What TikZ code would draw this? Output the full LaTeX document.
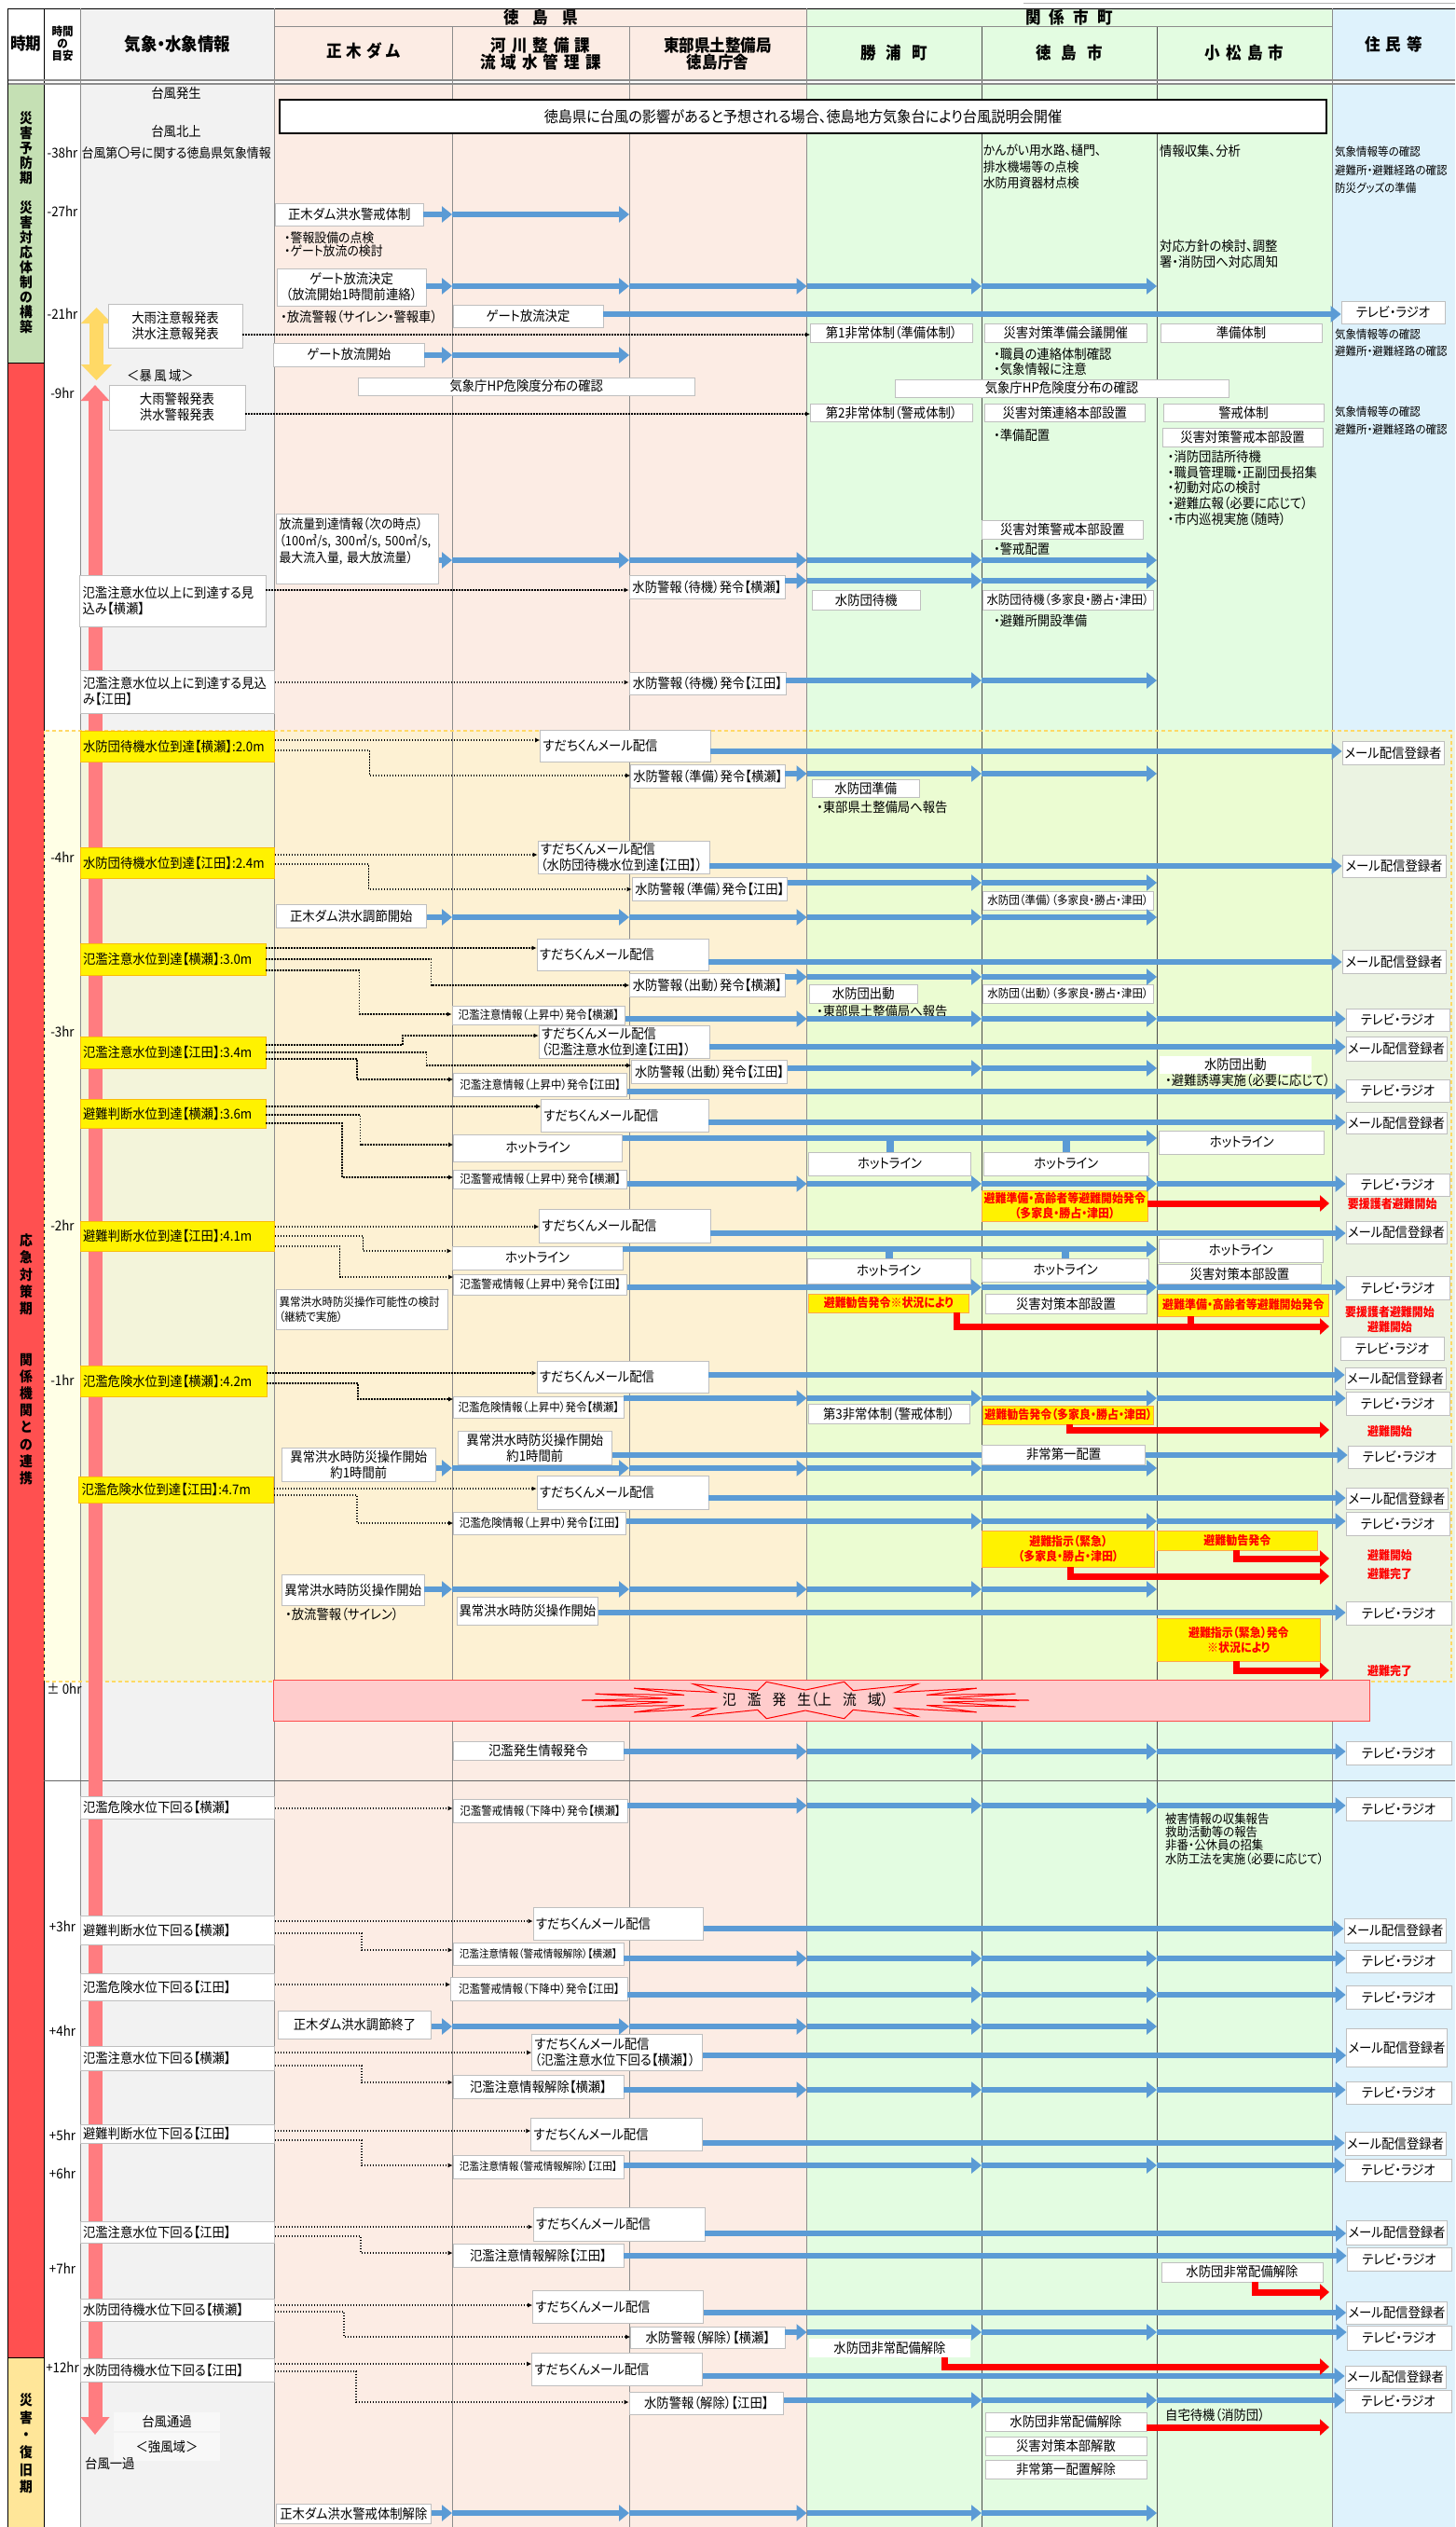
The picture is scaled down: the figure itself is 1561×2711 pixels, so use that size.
\documentclass[tikz,border=0pt]{standalone}
\usepackage{fontspec}
\setmainfont[FakeStretch=0.92,RawFeature=+palt]{Noto Sans CJK JP}
\usetikzlibrary{arrows.meta}

\definecolor{flowblue}{HTML}{5B9BD5}
\definecolor{wgray}{HTML}{F2F2F2}
\definecolor{pref}{HTML}{FCECE4}
\definecolor{muni}{HTML}{E3FCE1}
\definecolor{resi}{HTML}{DEF2FC}
\definecolor{ztime}{HTML}{FFFFE6}
\definecolor{zwgray}{HTML}{F3F4DA}
\definecolor{zpref}{HTML}{FDF1D3}
\definecolor{zmuni}{HTML}{EBFCD2}
\definecolor{zresi}{HTML}{EBF3E2}
\definecolor{pgreen}{HTML}{C5E0B4}
\definecolor{pred}{HTML}{FF5050}
\definecolor{pyel}{HTML}{FFE699}
\definecolor{pinkarr}{HTML}{FF7C80}
\definecolor{yelarr}{HTML}{FFD966}
\definecolor{floodpink}{HTML}{FFCCCC}

\newcommand\fN{\fontsize{14.5}{17}\selectfont}
\newcommand\fS{\fontsize{12.5}{15}\selectfont}
\newcommand\fT{\fontsize{11.5}{14}\selectfont}
\newcommand\fR{\bfseries\fontsize{13}{16}\selectfont}
\newcommand\fH{\bfseries\fontsize{18}{17}\selectfont}
\newcommand\gp{\hspace{6pt}}

% box from corner (x1,y1) to corner (x2,y2)
\newcommand\bx[7][]{%
  \pgfmathsetmacro\bw{#5-#3}\pgfmathsetmacro\bh{#6-#4}\pgfmathsetmacro\btw{#5-#3-6}%
  \node[box,minimum width=\bw pt,minimum height=\bh pt,#1] (#2) at ({(#3+#5)/2},{(#4+#6)/2}) {#7};}
% blue flow, one head at every column border
\newcommand\flow[3]{%
  \foreach \nx [remember=\nx as \px (initially #1.east)] in {#3}
    {\draw[flow] (\px |- 0,#2) -- (\nx |- 0,#2);}}

\tikzset{
  box/.style={draw=black!25, fill=white, line width=0.8pt, inner sep=2pt, font=\fN, align=center},
  lft/.style={align=left, text width=\btw pt},
  ybox/.style={box, fill=yellow, draw=yellow!50!orange, lft},
  rbox/.style={box, fill=yellow, draw=orange!70, text=red, font=\fR},
  nbox/.style={box, draw=none},
  txt/.style={inner sep=0pt, anchor=west, align=left, font=\fN},
  flow/.style={draw=flowblue, line width=6pt, -{Triangle[length=11pt,width=17pt]}},
  rarr/.style={draw=red, line width=7pt, line join=miter, shorten >=3pt, -{Triangle[length=10pt,width=17pt]}},
  rtab/.style={draw=red, line width=7pt},
  tab/.style={draw=flowblue, line width=8pt},
  dots/.style={line width=1.5pt, dash pattern=on 1.5pt off 1.5pt, -{Latex[length=5pt,width=5pt]}},
  colline/.style={draw=black!45, line width=0.8pt},
}

\begin{document}
\begin{tikzpicture}[x=1pt,y=-1pt]
\useasboundingbox (0,0) rectangle (1561,2711);
\clip (0,0) rectangle (1561,2711);
\fill[white] (0,0) rectangle (1561,2711);

% column borders
\coordinate (cD) at (485,0);
\coordinate (cR) at (675,0);
\coordinate (cE) at (865.5,0);
\coordinate (cK) at (1053,0);
\coordinate (cT) at (1241,0);
\coordinate (cM) at (1429,0);

% backgrounds
\fill[wgray] (86.5,9.3) rectangle (294.5,86);
\fill[pref] (294.5,9.3) rectangle (865.5,86);
\fill[muni] (865.5,9.3) rectangle (1429,86);
\fill[resi] (1429,9.3) rectangle (1561,86);
\fill[pgreen] (8.5,90) rectangle (47,389);
\fill[pred] (8.5,389) rectangle (47,2529);
\fill[pyel] (8.5,2529) rectangle (47,2711);
\fill[wgray] (86.5,90) rectangle (294.5,2711);
\fill[pref] (294.5,90) rectangle (865.5,2711);
\fill[muni] (865.5,90) rectangle (1429,2711);
\fill[resi] (1429,90) rectangle (1561,2711);
\fill[ztime] (47,784) rectangle (86.5,1804);
\fill[zwgray] (86.5,784) rectangle (294.5,1804);
\fill[zpref] (294.5,784) rectangle (865.5,1804);
\fill[zmuni] (865.5,784) rectangle (1429,1804);
\fill[zresi] (1429,784) rectangle (1561,1804);

% grid lines
\draw[black!30] (1098,3) -- (1561,3);
\draw[line width=1pt] (8.5,9.3) -- (1561,9.3);
\draw[line width=0.8pt] (8.5,9.3) -- (8.5,2711);
\draw[line width=0.8pt] (47,9.3) -- (47,2711);
\draw[colline] (86.5,9.3) -- (86.5,2711);
\draw[colline] (294.5,9.3) -- (294.5,2711);
\draw[colline] (485,28.7) -- (485,2711);
\draw[colline] (675,28.7) -- (675,2711);
\draw[colline] (865.5,9.3) -- (865.5,2711);
\draw[colline,black!70] (1053,28.7) -- (1053,2711);
\draw[colline,black!70] (1241,28.7) -- (1241,2711);
\draw[colline] (1429,9.3) -- (1429,2711);
\draw[colline] (294.5,28.7) -- (1429,28.7);
\draw[black!45,line width=1.2pt] (8.5,86) -- (1561,86);
\draw[black!45,line width=1.2pt] (8.5,90) -- (1561,90);
\draw[line width=0.8pt] (8.5,389) -- (47,389);
\draw[line width=0.8pt] (8.5,2529) -- (47,2529);
\draw[black!60,line width=1pt] (47,1910) -- (1561,1910);
\draw[yelarr,line width=1.2pt,dash pattern=on 4pt off 3pt] (47.5,784) rectangle (1557,1804);

% header
\node[font=\fH] (h1) at (28,47) {時期};
\node[font=\bfseries\fontsize{12.5}{13}\selectfont,align=center] (h2) at (67,47) {時間\\の\\目安};
\node[font=\bfseries\fontsize{19}{20}\selectfont] (h3) at (190.5,47) {気象・水象情報};
\node[font=\fH] (h4) at (580,19) {徳\hspace{15pt}島\hspace{15pt}県};
\node[font=\fH] (h5) at (390,55) {正\hspace{5pt}木\hspace{5pt}ダ\hspace{5pt}ム};
\node[font=\fH,align=center] (h6) at (580,57.5) {河\gp 川\gp 整\gp 備\gp 課\\流\gp 域\gp 水\gp 管\gp 理\gp 課};
\node[font=\fH,align=center] (h7) at (770,58) {東部県土整備局\\徳島庁舎};
\node[font=\fH] (h8) at (1147,19) {関\hspace{9pt}係\hspace{9pt}市\hspace{9pt}町};
\node[font=\fH] (h9) at (959,57) {勝\hspace{11pt}浦\hspace{11pt}町};
\node[font=\fH] (h10) at (1147,57) {徳\hspace{11pt}島\hspace{11pt}市};
\node[font=\fH] (h11) at (1335,57) {小\gp 松\gp 島\gp 市};
\node[font=\fH] (h12) at (1495,48) {住\gp 民\gp 等};

% periods
\node[font=\bfseries\fontsize{15}{16}\selectfont,align=center] (p1) at (28,238.5) {災\\害\\予\\防\\期\\\mbox{}\\災\\害\\対\\応\\体\\制\\の\\構\\築};
\node[font=\bfseries\fontsize{15}{18.2}\selectfont,align=center] (p2) at (28,1458.5) {応\\急\\対\\策\\期\\\mbox{}\\\mbox{}\\関\\係\\機\\関\\と\\の\\連\\携};
\node[font=\bfseries\fontsize{15}{18.6}\selectfont,align=center] (p3) at (28,2621.5) {災\\害\\・\\復\\旧\\期};

% time marks
\node[font=\fN] (tl1) at (67,164) {-38hr};
\node[font=\fN] (tl2) at (67,227) {-27hr};
\node[font=\fN] (tl3) at (67,337) {-21hr};
\node[font=\fN] (tl4) at (67,422) {-9hr};
\node[font=\fN] (tl5) at (67,920) {-4hr};
\node[font=\fN] (tl6) at (67,1107) {-3hr};
\node[font=\fN] (tl7) at (67,1315) {-2hr};
\node[font=\fN] (tl8) at (67,1481) {-1hr};
\node[font=\fN] (tl9) at (69,1812) {± 0hr};
\node[font=\fN] (tl10) at (67,2067) {+3hr};
\node[font=\fN] (tl11) at (67,2179) {+4hr};
\node[font=\fN] (tl12) at (67,2291) {+5hr};
\node[font=\fN] (tl13) at (67,2332) {+6hr};
\node[font=\fN] (tl14) at (67,2434) {+7hr};
\node[font=\fN] (tl15) at (67,2540) {+12hr};

% typhoon arrows
\draw[pinkarr,line width=15pt,{Triangle[length=17pt,width=30pt]}-{Triangle[length=19pt,width=30pt]}] (102,413) -- (102,2612);
\draw[yelarr,line width=15pt,{Triangle[length=17pt,width=32pt]}-{Triangle[length=17pt,width=32pt]}] (103.5,330) -- (103.5,408);

% weather and water
\node[txt,anchor=center] (w1) at (189,100) {台風発生};
\node[txt,anchor=center] (w2) at (189,141) {台風北上};
\node[txt,font=\fontsize{14}{17}\selectfont] (w3) at (87.5,164) {台風第〇号に関する徳島県気象情報};
\node[txt,anchor=center] (w4) at (172,403) {＜暴\,風\,域＞};
\bx{wa1}{116}{326}{260}{373}{大雨注意報発表\\洪水注意報発表}
\bx{wa2}{117}{413}{263}{461}{大雨警報発表\\洪水警報発表}
\bx[lft]{wl1}{85.6}{617}{285}{672}{氾濫注意水位以上に到達する見\\込み【横瀬】}
\bx[lft]{wl2}{86}{719}{294.5}{765}{氾濫注意水位以上に到達する見込\\み【江田】}
\bx[ybox]{y1}{86}{784}{294.5}{817}{水防団待機水位到達【横瀬】:2.0m}
\bx[ybox]{y2}{86}{909}{294.5}{942}{水防団待機水位到達【江田】:2.4m}
\bx[ybox]{y3}{86}{1012}{285}{1046}{氾濫注意水位到達【横瀬】:3.0m}
\bx[ybox]{y4}{86}{1112}{285}{1146}{氾濫注意水位到達【江田】:3.4m}
\bx[ybox]{y5}{86}{1179}{285}{1210}{避難判断水位到達【横瀬】:3.6m}
\bx[ybox]{y6}{86}{1310}{294.5}{1342}{避難判断水位到達【江田】:4.1m}
\bx[ybox]{y7}{86}{1465}{286}{1498}{氾濫危険水位到達【横瀬】:4.2m}
\bx[ybox]{y8}{84.6}{1584}{293.5}{1612}{氾濫危険水位到達【江田】:4.7m}
\bx[lft]{d1}{86}{1927}{294.5}{1951}{氾濫危険水位下回る【横瀬】}
\bx[lft]{d2}{86}{2055}{294.5}{2086}{避難判断水位下回る【横瀬】}
\bx[lft]{d3}{86}{2117}{294.5}{2146}{氾濫危険水位下回る【江田】}
\bx[lft]{d4}{86}{2195}{294.5}{2221}{氾濫注意水位下回る【横瀬】}
\bx[lft]{d5}{86}{2279}{294.5}{2299}{避難判断水位下回る【江田】}
\bx[lft]{d6}{86}{2383}{294.5}{2406}{氾濫注意水位下回る【江田】}
\bx[lft]{d7}{86}{2466}{294.5}{2490}{水防団待機水位下回る【横瀬】}
\bx[lft]{d8}{86}{2530}{294.5}{2555}{水防団待機水位下回る【江田】}
\bx[nbox,fill=white!50!wgray]{wp1}{122}{2588}{236}{2608}{台風通過}
\bx[nbox,fill=white!50!wgray]{wp2}{122}{2610}{236}{2640}{＜強風域＞}
\node[txt] (w5) at (91,2643) {台風一過};

% briefing
\bx[draw=black,line width=1.3pt,font=\fontsize{16.5}{18}\selectfont]{info}{300}{107}{1423}{143}{徳島県に台風の影響があると予想される場合、徳島地方気象台により台風説明会開催}
\bx{hp1}{384.5}{405}{745}{424}{気象庁HP危険度分布の確認}
\bx{hp2}{960}{407}{1318}{426}{気象庁HP危険度分布の確認}

% dam
\bx{m1}{295.5}{218}{454}{242}{正木ダム洪水警戒体制}
\node[txt,font=\fontsize{14}{14.5}\selectfont] (m1t) at (305,262) {・警報設備の点検\\・ゲート放流の検討};
\bx{m2}{297}{288}{457}{328}{ゲート放流決定\\（放流開始1時間前連絡）}
\node[txt] (m2t) at (301,340) {・放流警報（サイレン・警報車）};
\bx{m3}{293.5}{368}{455}{393}{ゲート放流開始}
\bx[lft,font=\fontsize{14}{18}\selectfont]{m4}{296.5}{551}{470.6}{626}{放流量到達情報（次の時点）\\（100㎥/s, 300㎥/s, 500㎥/s,\\最大流入量, 最大放流量）\\\mbox{}}
\bx{m5}{296}{970}{457.7}{995}{正木ダム洪水調節開始}
\bx[lft,font=\fontsize{12.5}{16}\selectfont]{m6}{296.5}{1383}{480}{1426}{異常洪水時防災操作可能性の検討\\（継続で実施）}
\bx{m7}{302}{1553}{467.7}{1589}{異常洪水時防災操作開始\\約1時間前}
\bx{m8}{302.5}{1689}{455}{1722}{異常洪水時防災操作開始}
\node[txt] (m8t) at (306,1732) {・放流警報（サイレン）};
\bx{m9}{298.5}{2157}{462.7}{2187}{正木ダム洪水調節終了}
\bx{m10}{296}{2686}{462.7}{2707}{正木ダム洪水警戒体制解除}

% river
\bx{r1}{486}{327}{647}{351}{ゲート放流決定}
\bx[font=\fS]{r2}{485}{1079}{670.6}{1099}{氾濫注意情報（上昇中）発令【横瀬】}
\bx[font=\fS]{r3}{486.6}{1151}{672.6}{1176}{氾濫注意情報（上昇中）発令【江田】}
\bx{r4}{486.6}{1217}{667.7}{1246}{ホットライン}
\bx[font=\fS]{r5}{486.6}{1255}{672.6}{1275}{氾濫警戒情報（上昇中）発令【横瀬】}
\bx{r6}{485}{1337}{668}{1362}{ホットライン}
\bx[font=\fS]{r7}{486.6}{1367}{672.6}{1389}{氾濫警戒情報（上昇中）発令【江田】}
\bx[font=\fS]{r8}{486.6}{1498}{669}{1521}{氾濫危険情報（上昇中）発令【横瀬】}
\bx{r9}{491}{1535}{656.7}{1571}{異常洪水時防災操作開始\\約1時間前}
\bx[font=\fS]{r10}{486.6}{1622}{671.6}{1646}{氾濫危険情報（上昇中）発令【江田】}
\bx{r11}{490}{1713}{641.8}{1743}{異常洪水時防災操作開始}
\bx{r12}{486}{1868}{669}{1888}{氾濫発生情報発令}
\bx[font=\fS]{r13}{486}{1930}{673}{1955}{氾濫警戒情報（下降中）発令【横瀬】}
\bx[font=\fT]{r14}{486}{2084}{669}{2108}{氾濫注意情報（警戒情報解除）【横瀬】}
\bx[font=\fS]{r15}{483.6}{2121}{673}{2146}{氾濫警戒情報（下降中）発令【江田】}
\bx{r16}{486}{2226}{669}{2251}{氾濫注意情報解除【横瀬】}
\bx[font=\fT]{r17}{486}{2312}{669}{2337}{氾濫注意情報（警戒情報解除）【江田】}
\bx{r18}{486}{2407}{669}{2432}{氾濫注意情報解除【江田】}

% mail service
\bx[lft]{s1}{579.6}{783}{762}{817}{すだちくんメール配信}
\bx[lft]{s2}{577}{902}{761}{937}{すだちくんメール配信\\（水防団待機水位到達【江田】）}
\bx[lft]{s3}{576}{1007}{760}{1041}{すだちくんメール配信}
\bx[lft]{s4}{578}{1100}{761}{1135}{すだちくんメール配信\\（氾濫注意水位到達【江田】）}
\bx[lft]{s5}{580.6}{1179}{760}{1214}{すだちくんメール配信}
\bx[lft]{s6}{578.6}{1297}{762}{1333}{すだちくんメール配信}
\bx[lft]{s7}{576}{1460}{760}{1494}{すだちくんメール配信}
\bx[lft]{s8}{576}{1583}{760}{1619}{すだちくんメール配信}
\bx[lft]{s9}{572}{2046}{754.7}{2081}{すだちくんメール配信}
\bx[lft]{s10}{570.6}{2182}{753.7}{2221}{すだちくんメール配信\\（氾濫注意水位下回る【横瀬】）}
\bx[lft]{s11}{569.7}{2272}{753.7}{2307}{すだちくんメール配信}
\bx[lft]{s12}{572}{2368}{756}{2404}{すだちくんメール配信}
\bx[lft]{s13}{571.6}{2457}{754.7}{2492}{すだちくんメール配信}
\bx[lft]{s14}{570.6}{2524}{753.7}{2559}{すだちくんメール配信}

% east office
\bx{e1}{675}{617}{842}{642}{水防警報（待機）発令【横瀬】}
\bx{e2}{675}{721}{843}{745}{水防警報（待機）発令【江田】}
\bx{e3}{676.6}{820}{842}{845}{水防警報（準備）発令【横瀬】}
\bx{e4}{678}{941}{844.7}{966}{水防警報（準備）発令【江田】}
\bx{e5}{675.6}{1044}{842}{1069}{水防警報（出動）発令【横瀬】}
\bx{e6}{677.6}{1137}{844.7}{1162}{水防警報（出動）発令【江田】}
\bx{e7}{676.6}{2496}{842}{2519}{水防警報（解除）【横瀬】}
\bx{e8}{675}{2566}{840.7}{2590}{水防警報（解除）【江田】}

% Katsuura
\bx{k1}{869.5}{347}{1043}{367}{第1非常体制（準備体制）}
\bx{k2}{869.5}{433}{1043}{452}{第2非常体制（警戒体制）}
\bx{k3}{871}{633}{987.5}{654}{水防団待機}
\bx{k4}{871}{836}{986.5}{855}{水防団準備}
\node[txt] (k4t) at (876,866) {・東部県土整備局へ報告};
\bx{k5}{868.6}{1056}{984}{1076}{水防団出動}
\node[txt] (k5t) at (876,1085) {・東部県土整備局へ報告};
\bx{hk1}{867.6}{1236}{1041.7}{1261}{ホットライン}
\bx{hk2}{866}{1350}{1041}{1377}{ホットライン}
\bx[rbox]{k6}{867}{1388}{1039.7}{1408}{避難勧告発令※状況により}
\bx{k7}{867}{1506}{1040}{1527}{第3非常体制（警戒体制）}
\bx[nbox]{k8}{868}{2509}{1041}{2529}{水防団非常配備解除}

% Tokushima
\node[txt,font=\fontsize{14}{17.5}\selectfont] (tt1) at (1054.6,179) {かんがい用水路、樋門、\\排水機場等の点検\\水防用資器材点検};
\bx{tk1}{1056.6}{347}{1230}{367}{災害対策準備会議開催}
\node[txt,font=\fontsize{14.5}{16}\selectfont] (tt2) at (1066,388) {・職員の連絡体制確認\\・気象情報に注意};
\bx{tk2}{1056.6}{433}{1228}{452}{災害対策連絡本部設置}
\node[txt] (tt3) at (1066,467) {・準備配置};
\bx{tk3}{1053.6}{558}{1226}{578}{災害対策警戒本部設置}
\node[txt] (tt4) at (1066,589) {・警戒配置};
\bx[font=\fontsize{13.5}{16}\selectfont]{tk4}{1054}{633}{1237}{654}{水防団待機（多家良・勝占・津田）}
\node[txt] (tt5) at (1066,666) {・避難所開設準備};
\bx[font=\fS]{tk5}{1054}{956}{1237}{976}{水防団（準備）（多家良・勝占・津田）}
\bx[font=\fS]{tk6}{1054}{1056}{1237}{1076}{水防団（出動）（多家良・勝占・津田）}
\bx{ht1}{1055}{1236}{1232.7}{1261}{ホットライン}
\bx{ht2}{1053.6}{1350}{1232.7}{1375}{ホットライン}
\bx[rbox]{tk7}{1053.6}{1277}{1231}{1310}{避難準備・高齢者等避難開始発令\\（多家良・勝占・津田）}
\bx{tk8}{1057}{1388}{1230}{1409}{災害対策本部設置}
\bx[rbox]{tk9}{1054.6}{1508}{1237.7}{1528}{避難勧告発令（多家良・勝占・津田）}
\bx{x1}{1053.6}{1550}{1228.7}{1571}{非常第一配置}
\bx[rbox]{tk10}{1053.6}{1642}{1238.7}{1681}{避難指示（緊急）\\（多家良・勝占・津田）}
\bx{tk11}{1057}{2588}{1230}{2608}{水防団非常配備解除}
\node[txt] (tt6) at (1250,2591) {自宅待機（消防団）};
\bx{tk12}{1057}{2614}{1230}{2634}{災害対策本部解散}
\bx{tk13}{1057}{2639}{1230}{2659}{非常第一配置解除}

% Komatsushima
\node[txt] (ct1) at (1244,162) {情報収集、分析};
\node[txt] (ct2) at (1244,272.5) {対応方針の検討、調整\\署・消防団へ対応周知};
\bx{c1}{1245}{347}{1418}{367}{準備体制}
\bx{c2}{1248}{433}{1420}{452}{警戒体制}
\bx{c3}{1247}{459}{1419}{479}{災害対策警戒本部設置}
\node[txt,font=\fontsize{14.5}{16.7}\selectfont] (ct3) at (1252.6,523.5) {・消防団詰所待機\\・職員管理職・正副団長招集\\・初動対応の検討\\・避難広報（必要に応じて）\\・市内巡視実施（随時）};
\bx[nbox]{c4}{1243.7}{1133}{1407}{1152}{水防団出動}
\node[txt] (ct4) at (1250,1159) {・避難誘導実施（必要に応じて）};
\bx{hm1}{1243.7}{1213}{1420.8}{1238}{ホットライン}
\bx{hm2}{1243.7}{1329}{1419}{1354}{ホットライン}
\bx{c5}{1242.7}{1356}{1417}{1377}{災害対策本部設置}
\bx[rbox]{c6}{1242.7}{1388}{1425}{1412}{避難準備・高齢者等避難開始発令}
\bx[rbox]{c7}{1241.7}{1642}{1413}{1663}{避難勧告発令}
\bx[rbox]{c8}{1241.7}{1736}{1416}{1782}{避難指示（緊急）発令\\※状況により}
\node[txt,font=\fontsize{13.5}{14.3}\selectfont] (ct5) at (1250,1972.5) {被害情報の収集報告\\救助活動等の報告\\非番・公休員の招集\\水防工法を実施（必要に応じて）};
\bx{c9}{1246}{2427}{1419}{2448}{水防団非常配備解除}

% residents
\node[txt,font=\fontsize{12.5}{19.5}\selectfont] (rt1) at (1432,182.5) {気象情報等の確認\\避難所・避難経路の確認\\防災グッズの準備};
\node[txt,font=\fontsize{12.5}{18}\selectfont] (rt2) at (1432,368) {気象情報等の確認\\避難所・避難経路の確認};
\node[txt,font=\fontsize{12.5}{19}\selectfont] (rt3) at (1432,451.5) {気象情報等の確認\\避難所・避難経路の確認};
\node[txt,text=red,font=\fR] (rt4) at (1445.7,1292) {要援護者避難開始};
\node[txt,anchor=center,align=center,text=red,font=\fR] (rt5) at (1491,1416) {要援護者避難開始\\避難開始};
\node[txt,anchor=center,text=red,font=\fR] (rt6) at (1491,1536) {避難開始};
\node[txt,anchor=center,align=center,text=red,font=\bfseries\fontsize{13}{20}\selectfont] (rt7) at (1491,1679) {避難開始\\避難完了};
\node[txt,anchor=center,text=red,font=\fR] (rt8) at (1491,1793) {避難完了};
\bx{tv1}{1439}{323}{1550}{347}{テレビ・ラジオ}
\bx{ml1}{1440}{795}{1549}{820}{メール配信登録者}
\bx{ml2}{1440}{917}{1551}{941}{メール配信登録者}
\bx{ml3}{1440}{1019}{1551}{1044}{メール配信登録者}
\bx{tv2}{1444}{1082}{1555}{1106}{テレビ・ラジオ}
\bx{ml4}{1444}{1112}{1552}{1138}{メール配信登録者}
\bx{tv3}{1444}{1158}{1555}{1182}{テレビ・ラジオ}
\bx{ml5}{1444}{1193}{1552}{1216}{メール配信登録者}
\bx{tv4}{1444}{1259}{1555}{1283}{テレビ・ラジオ}
\bx{ml6}{1444}{1310}{1552}{1334}{メール配信登録者}
\bx{tv5}{1444}{1369}{1555}{1394}{テレビ・ラジオ}
\bx{tv6}{1438}{1434}{1549}{1459}{テレビ・ラジオ}
\bx{ml7}{1443}{1467}{1551}{1490}{メール配信登録者}
\bx{tv7}{1444}{1493}{1555}{1518}{テレビ・ラジオ}
\bx{tv8}{1446}{1551}{1557}{1575}{テレビ・ラジオ}
\bx{ml8}{1444}{1596}{1553}{1619}{メール配信登録者}
\bx{tv9}{1444}{1622}{1555}{1647}{テレビ・ラジオ}
\bx{tv10}{1444}{1718}{1557}{1743}{テレビ・ラジオ}
\bx{tv11}{1444}{1868}{1557}{1893}{テレビ・ラジオ}
\bx{tv12}{1444}{1928}{1557}{1953}{テレビ・ラジオ}
\bx{ml9}{1442}{2058}{1551}{2084}{メール配信登録者}
\bx{tv13}{1444}{2092}{1557}{2116}{テレビ・ラジオ}
\bx{tv14}{1444}{2130}{1557}{2155}{テレビ・ラジオ}
\bx{ml10}{1445}{2176}{1552}{2217}{メール配信登録者}
\bx{tv15}{1444}{2233}{1557}{2257}{テレビ・ラジオ}
\bx{ml11}{1443}{2287}{1551}{2312}{メール配信登録者}
\bx{tv16}{1443}{2316}{1557}{2340}{テレビ・ラジオ}
\bx{ml12}{1445}{2382}{1552}{2408}{メール配信登録者}
\bx{tv17}{1445}{2411}{1557}{2436}{テレビ・ラジオ}
\bx{ml13}{1445}{2469}{1552}{2493}{メール配信登録者}
\bx{tv18}{1445}{2495}{1557}{2521}{テレビ・ラジオ}
\bx{ml14}{1443}{2538}{1551}{2562}{メール配信登録者}
\bx{tv19}{1443}{2564}{1557}{2588}{テレビ・ラジオ}

% blue flows
\flow{m1}{230}{cD,cR}
\flow{m2}{307}{cD,cR,cE,cK,cT}
\flow{r1}{337}{tv1.west}
\flow{m3}{381}{cD,cR}
\flow{m4}{601}{cD,cR,cE,cK,cT}
\flow{e1}{623}{cE,cK,cT}
\flow{e2}{730}{cK,cT}
\flow{s1}{806}{ml1.west}
\flow{e3}{830}{cE,cK,cT}
\flow{s2}{929}{ml2.west}
\flow{e4}{947}{cK,cT}
\flow{m5}{984}{cD,cR,cE,cK,cT}
\flow{s3}{1032}{ml3.west}
\flow{e5}{1048}{cE,cK,cT}
\flow{r2}{1093}{cE,cK,cT,tv2.west}
\flow{s4}{1123}{ml4.west}
\flow{e6}{1146}{cK,cT}
\flow{r3}{1171}{tv3.west}
\flow{s5}{1204}{ml5.west}
\flow{r4}{1221}{cT}
\flow{r5}{1270}{cE,cK,cT,tv4.west}
\flow{s6}{1323}{ml6.west}
\flow{r6}{1340}{cT}
\flow{r7}{1381}{cK,cT,tv5.west}
\flow{s7}{1475}{ml7.west}
\flow{r8}{1500}{cE,cK,cT,tv7.west}
\draw[flow,-] (r9.east |- 0,1561) -- (x1.west |- 0,1561);
\flow{x1}{1561}{tv8.west}
\flow{m7}{1575}{cD,cR,cE,cK,cT}
\flow{s8}{1607}{ml8.west}
\flow{r10}{1632}{cK,cT,tv9.west}
\flow{m8}{1705}{cD,cR,cE,cK,cT}
\flow{r11}{1730}{tv10.west}
\flow{r12}{1879}{cE,cK,cT,tv11.west}
\flow{r13}{1937}{cE,cK,cT,tv12.west}
\flow{s9}{2069}{ml9.west}
\flow{r14}{2101}{cE,cK,cT,tv13.west}
\flow{r15}{2140}{cK,cT,tv14.west}
\flow{m9}{2174}{cD,cR,cE,cK,cT}
\flow{s10}{2205}{ml10.west}
\flow{r16}{2242}{cE,cK,cT,tv15.west}
\flow{s11}{2299}{ml11.west}
\flow{r17}{2323}{cK,cT,tv16.west}
\flow{s12}{2396}{ml12.west}
\flow{r18}{2420}{tv17.west}
\flow{s13}{2481}{ml13.west}
\flow{e7}{2502}{cE,cK,cT,tv18.west}
\flow{s14}{2549}{ml14.west}
\flow{e8}{2575}{cK,cT,tv19.west}
\flow{m10}{2696}{cD,cR,cE,cK,cT}

% hotline taps
\draw[tab] (hk1.north) -- (hk1.north |- 0,1221);
\draw[tab] (ht1.north) -- (ht1.north |- 0,1221);
\draw[tab] (hk2.north) -- (hk2.north |- 0,1340);
\draw[tab] (ht2.north) -- (ht2.north |- 0,1340);

% evacuation orders
\draw[rarr] (tk7.east |- 0,1291) -- (cM |- 0,1291);
\draw[rarr] (k6.south -| 1026,0) |- (cM |- 0,1423);
\draw[rtab] (c6.south -| 1277.5,0) -- ++(0,11.5);
\draw[rarr] (tk9.south -| 1147,0) |- (cM |- 0,1534);
\draw[rarr] (tk10.south -| 1148,0) |- (cM |- 0,1691);
\draw[rarr] (c7.south -| 1326,0) |- (cM |- 0,1672);
\draw[rarr] (c8.south -| 1326,0) |- (cM |- 0,1792);
\draw[rarr] (c9.south -| 1346,0) |- (cM |- 0,2459);
\draw[rarr] (k8.south -| 1013.8,0) |- (cM |- 0,2539);
\draw[rarr] (tk11.east |- 0,2604) -- (cM |- 0,2604);

% dotted notices
\draw[dots] (wa1.east |- 0,359) -- (k1.west |- 0,359);
\draw[dots] (wa2.east |- 0,444) -- (k2.west |- 0,444);
\draw[dots] (wl1.east |- 0,633) -- (e1.west |- 0,633);
\draw[dots] (wl2.east |- 0,732) -- (e2.west |- 0,732);
\draw[dots] (y1.east |- 0,794) -- (s1.west |- 0,794);
\draw[dots] (y1.east |- 0,805) -| (396.5,832) -- (e3.west |- 0,832);
\draw[dots] (y2.east |- 0,917) -- (s2.west |- 0,917);
\draw[dots] (y2.east |- 0,927) -| (395.5,954) -- (e4.west |- 0,954);
\draw[dots] (y3.east |- 0,1017) -- (s3.west |- 0,1017);
\draw[dots] (y3.east |- 0,1029) -| (462.7,1057) -- (e5.west |- 0,1057);
\draw[dots] (y3.east |- 0,1041) -| (385.6,1088) -- (r2.west |- 0,1088);
\draw[dots] (y4.east |- 0,1121) -| (432,1111) -- (s4.west |- 0,1111);
\draw[dots] (y4.east |- 0,1129) -| (457.7,1143) -- (e6.west |- 0,1143);
\draw[dots] (y4.east |- 0,1136) -| (383,1158) -- (r3.west |- 0,1158);
\draw[dots] (y5.east |- 0,1187) -- (s5.west |- 0,1187);
\draw[dots] (y5.east |- 0,1196) -| (386.6,1228) -- (r4.west |- 0,1228);
\draw[dots] (y5.east |- 0,1205) -| (367,1263) -- (r5.west |- 0,1263);
\draw[dots] (y6.east |- 0,1316) -- (s6.west |- 0,1316);
\draw[dots] (y6.east |- 0,1326) -| (389.6,1342) -- (r6.west |- 0,1342);
\draw[dots] (y6.east |- 0,1337) -| (364.7,1370) -- (r7.west |- 0,1370);
\draw[dots] (y7.east |- 0,1473) -- (s7.west |- 0,1473);
\draw[dots] (y7.east |- 0,1484) -| (384,1501) -- (r8.west |- 0,1501);
\draw[dots] (y8.east |- 0,1597) -- (s8.west |- 0,1597);
\draw[dots] (y8.east |- 0,1604) -| (383,1634) -- (r10.west |- 0,1634);
\draw[dots] (d1.east |- 0,1940) -- (r13.west |- 0,1940);
\draw[dots] (d2.east |- 0,2061) -- (s9.west |- 0,2061);
\draw[dots] (d2.east |- 0,2074) -| (388,2092) -- (r14.west |- 0,2092);
\draw[dots] (d3.east |- 0,2129) -- (r15.west |- 0,2129);
\draw[dots] (d4.east |- 0,2202) -- (s10.west |- 0,2202);
\draw[dots] (d4.east |- 0,2216) -| (388,2234) -- (r16.west |- 0,2234);
\draw[dots] (d5.east |- 0,2286) -- (s11.west |- 0,2286);
\draw[dots] (d5.east |- 0,2296) -| (388,2323) -- (r17.west |- 0,2323);
\draw[dots] (d6.east |- 0,2389) -- (s12.west |- 0,2389);
\draw[dots] (d6.east |- 0,2399) -| (387,2417) -- (r18.west |- 0,2417);
\draw[dots] (d7.east |- 0,2473) -- (s13.west |- 0,2473);
\draw[dots] (d7.east |- 0,2480) -| (369,2507) -- (e7.west |- 0,2507);
\draw[dots] (d8.east |- 0,2536) -- (s14.west |- 0,2536);
\draw[dots] (d8.east |- 0,2544) -| (382,2577) -- (e8.west |- 0,2577);

% flood band
\fill[floodpink] (293.5,1802) rectangle (1469,1846);
\draw[red!70,line width=1pt] (293.5,1802) rectangle (1469,1846);
\draw[red,line width=1pt,fill=floodpink] (1104,1824) \foreach \a in {10,20,...,350} {-- ({864+ifthenelse(mod(\a,20)==0,240,150)*cos(\a)},{1824+ifthenelse(mod(\a,20)==0,20,11)*sin(\a)})} -- cycle;
\node[font=\fontsize{16}{18}\selectfont] (fl) at (864,1823) {氾\hspace{12pt}濫\hspace{12pt}発\hspace{12pt}生（上\hspace{12pt}流\hspace{12pt}域）};
\end{tikzpicture}
\end{document}
